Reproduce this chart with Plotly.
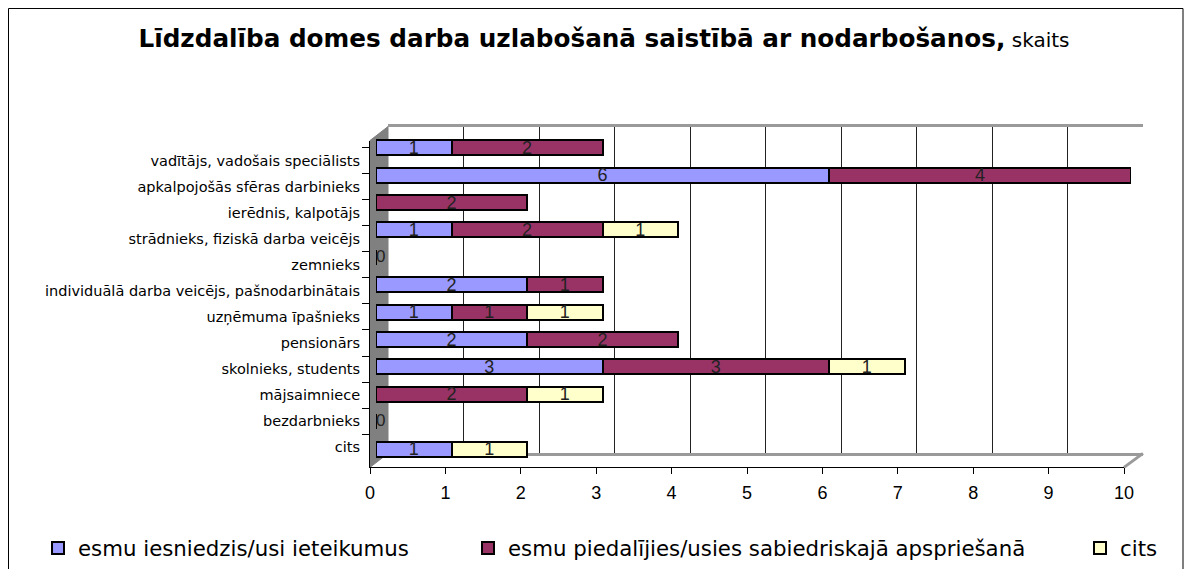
import plotly.graph_objects as go

# figure is placed in the page with an 8px body margin
OFF = 8
W, H = 1176, 561

categories = [
    "vadītājs, vadošais speciālists",
    "apkalpojošās sfēras darbinieks",
    "ierēdnis, kalpotājs",
    "strādnieks, fiziskā darba veicējs",
    "zemnieks",
    "individuālā darba veicējs, pašnodarbinātais",
    "uzņēmuma īpašnieks",
    "pensionārs",
    "skolnieks, students",
    "mājsaimniece",
    "bezdarbnieks",
    "cits",
]
series_names = [
    "esmu iesniedzis/usi ieteikumus",
    "esmu piedalījies/usies sabiedriskajā apspriešanā",
    "cits",
]
iesniedzis = [1, 6, 0, 1, 0, 2, 1, 2, 3, 0, 0, 1]
piedalijies = [2, 4, 2, 2, 0, 1, 1, 2, 3, 2, 0, 0]
cits = [0, 0, 0, 1, 0, 0, 1, 0, 1, 1, 0, 1]
x_ticks = list(range(0, 11))

colors = ["#9999FF", "#993366", "#FFFFCC"]
values = [iesniedzis, piedalijies, cits]

LAB = "DejaVu Sans"
NUM = "Liberation Sans, Arial"


def px(x):
    return (x - OFF) / W


def py(y):
    return 1 - (y - OFF) / H


fig = go.Figure()

# back-wall grid subplot (x/y)
fig.add_trace(go.Scatter(x=[0, 10], y=[0, 1], mode="markers",
                         marker=dict(opacity=0), showlegend=False,
                         hoverinfo="skip", xaxis="x", yaxis="y"))

legends = ["legend", "legend2", "legend3"]
for name, vals, col, lg in zip(series_names, values, colors, legends):
    fig.add_trace(go.Bar(
        y=categories, x=vals, name=name, orientation="h",
        marker=dict(color=col, line=dict(color="black", width=2)),
        text=[str(v) if v else "" for v in vals],
        textposition="inside", insidetextanchor="middle",
        constraintext="none", textangle=0,
        textfont=dict(size=18, color="#222222", family=NUM),
        hoverinfo="x+y+name",
        xaxis="x2", yaxis="y2", legend=lg,
    ))

# "0" labels for rows where every series is zero
totals = [a + b + c for a, b, c in zip(iesniedzis, piedalijies, cits)]
zero_rows = [c for c, t in zip(categories, totals) if t == 0]
fig.add_trace(go.Scatter(
    x=[0] * len(zero_rows), y=zero_rows, mode="text",
    text=["0"] * len(zero_rows), textposition="middle right",
    textfont=dict(size=17, color="#222222", family=NUM),
    showlegend=False, hoverinfo="skip", xaxis="x2", yaxis="y2",
))

# front axes (category labels and value ticks)
fig.add_trace(go.Scatter(x=[0] * len(categories), y=categories, mode="markers",
                         marker=dict(opacity=0), showlegend=False,
                         hoverinfo="skip", xaxis="x3", yaxis="y3"))

legend_common = dict(orientation="h", yanchor="middle", xanchor="left",
                     font=dict(size=21.3, family=LAB, color="black"),
                     bgcolor="rgba(0,0,0,0)", itemwidth=30)

fig.update_layout(
    width=W, height=H,
    margin=dict(l=0, r=0, t=0, b=0),
    paper_bgcolor="white", plot_bgcolor="rgba(0,0,0,0)",
    barmode="stack", bargap=0.45,
    hovermode="closest",
    title=dict(
        text="<b>Līdzdalība domes darba uzlabošanā saistībā ar nodarbošanos,</b>"
             "<span style='font-size:20px'> skaits</span>",
        x=px(604), xanchor="center", y=py(38), yanchor="middle",
        font=dict(size=24.7, family=LAB, color="black"),
    ),
    # back wall
    xaxis=dict(domain=[px(388), px(1143)], range=[0, 10], dtick=1,
               showgrid=True, gridcolor="#222222", gridwidth=1,
               showticklabels=False, zeroline=False, ticks="",
               showline=True, linecolor="#9A9A9A", linewidth=3, mirror=True,
               anchor="y"),
    yaxis=dict(domain=[py(455), py(127)], range=[0, 1], showgrid=False,
               showticklabels=False, zeroline=False, showline=False,
               ticks="", anchor="x"),
    # bars
    xaxis2=dict(domain=[px(376), px(1131)], range=[0, 10],
                showgrid=False, zeroline=False, showticklabels=False,
                ticks="", showline=False, anchor="y2"),
    yaxis2=dict(domain=[py(464.5), py(134.5)], autorange="reversed",
                type="category", categoryorder="array", categoryarray=categories,
                showgrid=False, zeroline=False, showticklabels=False,
                ticks="", showline=False, anchor="x2"),
    # front axes
    xaxis3=dict(domain=[px(370), px(1124)], range=[0, 10],
                tickvals=x_ticks, ticktext=[str(t) for t in x_ticks],
                showgrid=False, zeroline=False, ticks="outside", ticklen=6,
                tickcolor="black", ticklabelstandoff=3,
                tickfont=dict(size=18, family=NUM, color="black"),
                showline=True, linecolor="black", linewidth=1,
                anchor="y3", automargin=False),
    yaxis3=dict(domain=[py(469), py(141)], autorange="reversed",
                type="category", categoryorder="array", categoryarray=categories,
                showgrid=False, zeroline=False, tickson="boundaries",
                ticks="outside", ticklen=7, tickcolor="black",
                ticklabelstandoff=6,
                tickfont=dict(size=14.5, family=LAB, color="black"),
                showline=True, linecolor="black", linewidth=1,
                anchor="x3", automargin=False),
    legend=dict(x=px(38), y=py(550), **legend_common),
    legend2=dict(x=px(468), y=py(550), **legend_common),
    legend3=dict(x=px(1080), y=py(550), **legend_common),
    shapes=[
        # outer chart border
        dict(type="rect", xref="paper", yref="paper",
             x0=px(8.5), x1=px(1183), y0=py(620), y1=py(8.5),
             line=dict(color="black", width=1), fillcolor="rgba(0,0,0,0)",
             layer="below"),
        # grey side wall
        dict(type="path", xref="paper", yref="paper",
             path=f"M {px(370)},{py(469)} L {px(388)},{py(455)} "
                  f"L {px(388)},{py(127)} L {px(370)},{py(141)} Z",
             fillcolor="#808080", line=dict(color="#808080", width=1),
             layer="below"),
        # floor right edge
        dict(type="path", xref="paper", yref="paper",
             path=f"M {px(1124)},{py(469)} L {px(1143)},{py(455)}",
             line=dict(color="#9A9A9A", width=3), layer="below"),
    ],
)

fig.write_html("out.html")
